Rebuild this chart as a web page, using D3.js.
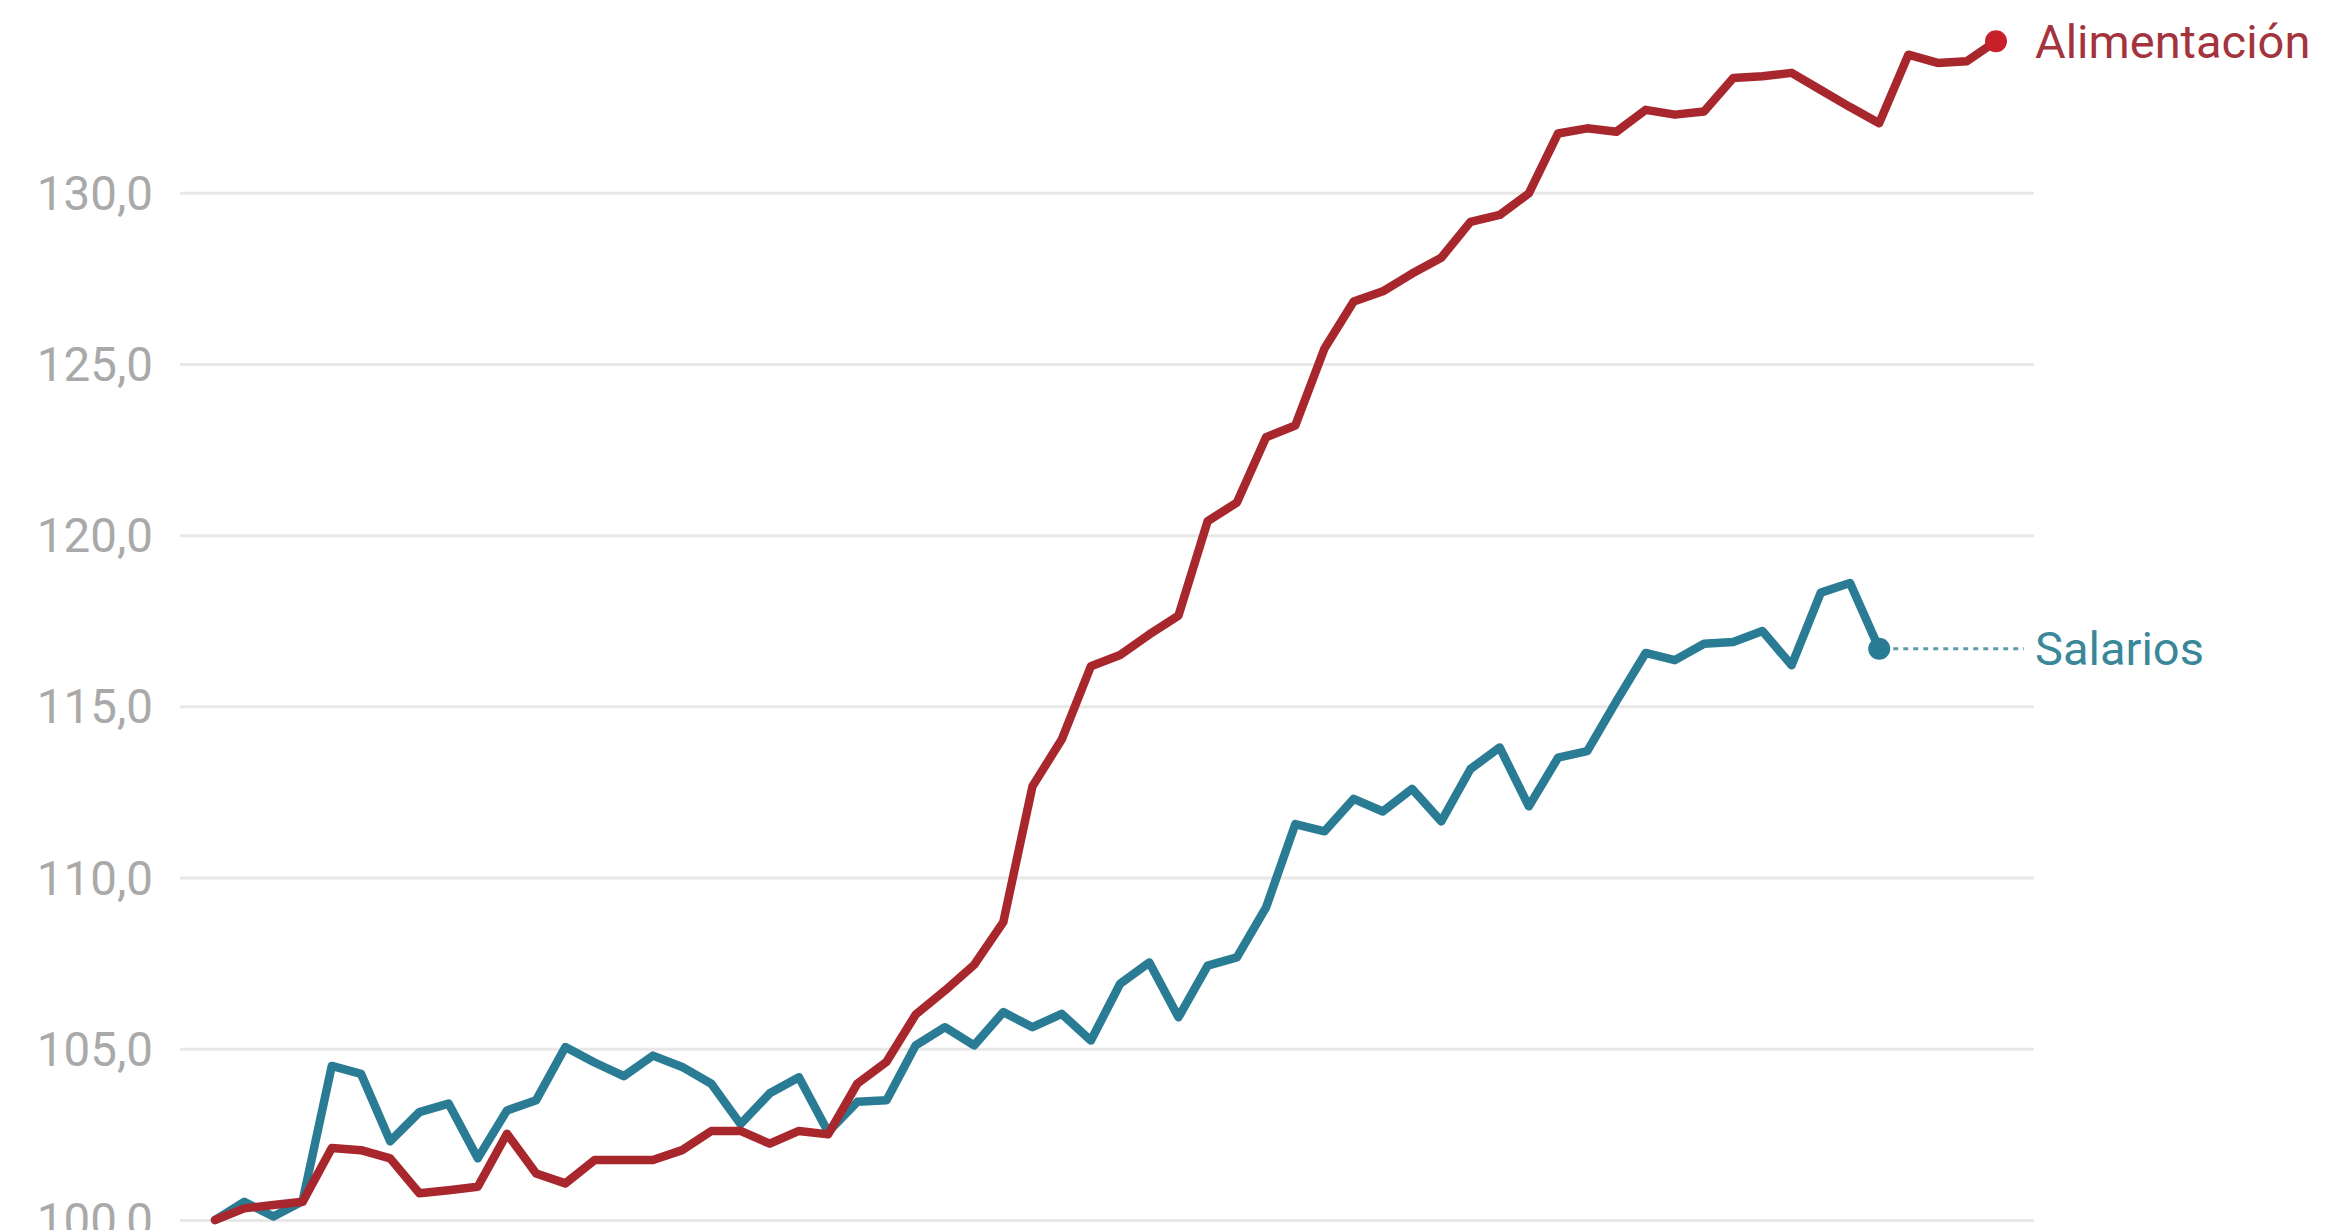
<!DOCTYPE html>
<html>
<head>
<meta charset="utf-8">
<script src="https://cdn.jsdelivr.net/npm/d3@7"></script>
<style>
  html, body { margin: 0; padding: 0; background: #fff; }
  svg { display: block; }
</style>
</head>
<body>
<svg id="chart" width="2350" height="1230"></svg>
<script>
// ---- data ----
const alimentacion = [
  100.0, 100.34, 100.44, 100.53, 102.1, 102.04, 101.8, 100.78, 100.87, 100.97,
  102.52, 101.36, 101.07, 101.75, 101.75, 101.75, 102.04, 102.6, 102.6, 102.23,
  102.6, 102.5, 103.98, 104.62, 106.0, 106.7, 107.45, 108.7, 112.67, 114.03,
  116.17, 116.5, 117.1, 117.65, 120.41, 120.95, 122.86, 123.2, 125.45, 126.82,
  127.12, 127.64, 128.1, 129.15, 129.35, 129.98, 131.73, 131.88, 131.78, 132.42,
  132.28, 132.37, 133.35, 133.4, 133.5, 133.0, 132.5, 132.03, 134.03, 133.79,
  133.84, 134.42
];
const salarios = [
  100.0, 100.53, 100.1, 100.55, 104.5, 104.27, 102.3, 103.15, 103.4, 101.8,
  103.2, 103.5, 105.05, 104.6, 104.2, 104.8, 104.47, 103.98, 102.8, 103.7,
  104.17, 102.57, 103.45, 103.5, 105.1, 105.63, 105.1, 106.07, 105.63, 106.02,
  105.24, 106.9, 107.52, 105.92, 107.43, 107.67, 109.13, 111.56, 111.35, 112.3,
  111.93, 112.59, 111.64, 113.17, 113.8, 112.08, 113.5, 113.69, 115.15, 116.56,
  116.35, 116.83, 116.88, 117.2, 116.2, 118.32, 118.6, 116.68
];
const seriesNames = ["Alimentación", "Salarios"];
const yTicks = [100, 105, 110, 115, 120, 125, 130];

// ---- layout ----
const svg = d3.select("#chart");
const gridLeft = 180, gridRight = 2034;

const x = d3.scaleLinear().domain([0, alimentacion.length - 1]).range([215, 1996]);
const y = d3.scaleLinear().domain([100, 130]).range([1220, 192.7]);

const locale = d3.formatLocale({ decimal: ",", thousands: ".", grouping: [3], currency: ["", " €"] });
const fmt = locale.format(".1f");

const colRed = "#a8272d", colRedDot = "#c8202a", colTeal = "#2a7c94";
const colRedText = "#a3343e", colTealText = "#3a8799";
const fontFam = "Roboto, 'Noto Sans', sans-serif";

// grid + y labels via axis
const axis = d3.axisLeft(y)
  .tickValues(yTicks)
  .tickFormat(fmt)
  .tickSize(-(gridRight - gridLeft))
  .tickPadding(27);

const gAxis = svg.append("g")
  .attr("transform", `translate(${gridLeft},0)`)
  .call(axis);
gAxis.select(".domain").remove();
gAxis.selectAll(".tick line")
  .attr("stroke", "#e8e8e8")
  .attr("stroke-width", 3);
gAxis.selectAll(".tick text")
  .attr("fill", "#a9a9a9")
  .attr("font-family", fontFam)
  .attr("font-size", 47.5)
  .attr("dy", "0.35em");

// lines
const line = d3.line()
  .x((d, i) => x(i))
  .y(d => y(d));

svg.append("path")
  .datum(salarios)
  .attr("fill", "none")
  .attr("stroke", colTeal)
  .attr("stroke-width", 8.5)
  .attr("stroke-linejoin", "round")
  .attr("stroke-linecap", "round")
  .attr("d", line);

svg.append("path")
  .datum(alimentacion)
  .attr("fill", "none")
  .attr("stroke", colRed)
  .attr("stroke-width", 8.5)
  .attr("stroke-linejoin", "round")
  .attr("stroke-linecap", "round")
  .attr("d", line);

// end markers + labels
const lastA = alimentacion.length - 1;
const lastS = salarios.length - 1;

svg.append("line")
  .attr("x1", x(lastS) + 14)
  .attr("x2", 2024)
  .attr("y1", y(salarios[lastS]))
  .attr("y2", y(salarios[lastS]))
  .attr("stroke", "#5d9aaa")
  .attr("stroke-width", 3)
  .attr("stroke-dasharray", "5,5");

svg.append("circle")
  .attr("cx", x(lastS))
  .attr("cy", y(salarios[lastS]))
  .attr("r", 11)
  .attr("fill", colTeal);

svg.append("circle")
  .attr("cx", x(lastA))
  .attr("cy", y(alimentacion[lastA]))
  .attr("r", 11)
  .attr("fill", colRedDot);

svg.append("text")
  .attr("x", 2035)
  .attr("y", y(alimentacion[lastA]))
  .attr("dy", "0.35em")
  .attr("fill", colRedText)
  .attr("font-family", fontFam)
  .attr("font-size", 47)
  .text(seriesNames[0]);

svg.append("text")
  .attr("x", 2035)
  .attr("y", y(salarios[lastS]))
  .attr("dy", "0.35em")
  .attr("fill", colTealText)
  .attr("font-family", fontFam)
  .attr("font-size", 47)
  .text(seriesNames[1]);
</script>
</body>
</html>
